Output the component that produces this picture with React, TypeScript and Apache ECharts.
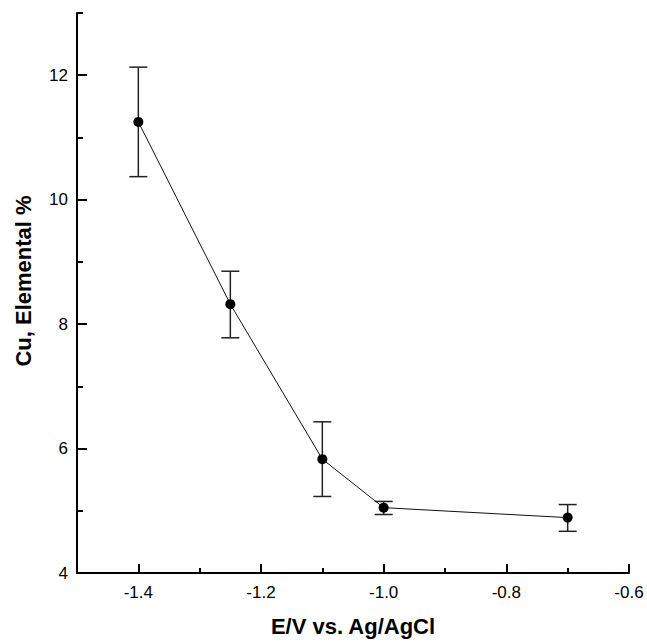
import React, { useEffect, useRef } from "react";
import * as echarts from "echarts";

const xValues = [-1.4, -1.25, -1.1, -1.0, -0.7];
const yValues = [11.25, 8.32, 5.83, 5.05, 4.89];
const errLow = [10.37, 7.78, 5.23, 4.94, 4.67];
const errHigh = [12.13, 8.85, 6.43, 5.15, 5.1];

const xMajorTicks = [-1.4, -1.2, -1.0, -0.8, -0.6];
const xMinorTicks = [-1.5, -1.3, -1.1, -0.9, -0.7];
const yMajorTicks = [4, 6, 8, 10, 12];
const yMinorTicks = [5, 7, 9, 11, 13];

const xTitle = "E/V vs. Ag/AgCl";
const yTitle = "Cu, Elemental %";

const FONT = "'Liberation Sans', Arial, Helvetica, sans-serif";

export default function App() {
  const ref = useRef<HTMLDivElement>(null);

  useEffect(() => {
    if (!ref.current) return;
    const chart = echarts.init(ref.current, null, { renderer: "svg" });
    const axisLine = { show: true, lineStyle: { color: "#000", width: 2 } };
    chart.setOption({
      animation: false,
      backgroundColor: "#fff",
      grid: { left: 77, right: 18, top: 13, bottom: 67, containLabel: false },
      xAxis: [
        {
          type: "value",
          min: -1.5,
          max: -0.6,
          position: "bottom",
          axisLine,
          splitLine: { show: false },
          axisTick: {
            show: true,
            inside: true,
            length: 9,
            customValues: xMajorTicks,
            lineStyle: { color: "#000", width: 2 },
          },
          axisLabel: {
            show: true,
            customValues: xMajorTicks,
            margin: 11,
            fontSize: 17,
            fontFamily: FONT,
            color: "#000",
            formatter: (v: number) => v.toFixed(1),
          },
          name: xTitle,
          nameLocation: "middle",
          nameGap: 42,
          nameTextStyle: { fontSize: 22, fontWeight: "bold", fontFamily: FONT, color: "#000" },
        },
        {
          type: "value",
          min: -1.5,
          max: -0.6,
          position: "bottom",
          axisLine: { show: false },
          splitLine: { show: false },
          axisTick: {
            show: true,
            inside: true,
            length: 5,
            customValues: xMinorTicks,
            lineStyle: { color: "#000", width: 2 },
          },
          axisLabel: { show: false },
        },
      ],
      yAxis: [
        {
          type: "value",
          min: 4,
          max: 13,
          position: "left",
          axisLine,
          splitLine: { show: false },
          axisTick: {
            show: true,
            inside: true,
            length: 10,
            customValues: yMajorTicks,
            lineStyle: { color: "#000", width: 2 },
          },
          axisLabel: {
            show: true,
            customValues: yMajorTicks,
            margin: 9,
            fontSize: 17,
            fontFamily: FONT,
            color: "#000",
          },
        },
        {
          type: "value",
          min: 4,
          max: 13,
          position: "left",
          axisLine: { show: false },
          splitLine: { show: false },
          axisTick: {
            show: true,
            inside: true,
            length: 6,
            customValues: yMinorTicks,
            lineStyle: { color: "#000", width: 2 },
          },
          axisLabel: { show: false },
        },
      ],
      graphic: [
        {
          type: "text",
          x: 23,
          y: 281,
          rotation: Math.PI / 2,
          style: {
            text: yTitle,
            fontSize: 22,
            fontWeight: "bold",
            fontFamily: FONT,
            fill: "#000",
            align: "center",
            verticalAlign: "middle",
          },
        },
      ],
      series: [
        {
          type: "line",
          xAxisIndex: 0,
          yAxisIndex: 0,
          data: xValues.map((x, i) => [x, yValues[i]]),
          symbol: "circle",
          symbolSize: 10,
          itemStyle: { color: "#000" },
          lineStyle: { color: "#111", width: 1 },
          z: 3,
        },
        {
          type: "custom",
          xAxisIndex: 0,
          yAxisIndex: 0,
          data: xValues.map((x, i) => [x, errLow[i], errHigh[i]]),
          encode: { x: 0, y: [1, 2] },
          renderItem: (params: any, api: any) => {
            const x = api.value(0);
            const lo = api.coord([x, api.value(1)]);
            const hi = api.coord([x, api.value(2)]);
            const hw = 9;
            const style = { stroke: "#222", lineWidth: 1.5 };
            return {
              type: "group",
              children: [
                { type: "line", shape: { x1: lo[0], y1: lo[1], x2: hi[0], y2: hi[1] }, style },
                { type: "line", shape: { x1: hi[0] - hw, y1: hi[1], x2: hi[0] + hw, y2: hi[1] }, style },
                { type: "line", shape: { x1: lo[0] - hw, y1: lo[1], x2: lo[0] + hw, y2: lo[1] }, style },
              ],
            };
          },
          z: 2,
        },
      ],
    });
    return () => chart.dispose();
  }, []);

  return (
    <div
      ref={ref}
      style={{ position: "fixed", left: 0, top: 0, width: 647, height: 642, background: "#fff" }}
    />
  );
}
